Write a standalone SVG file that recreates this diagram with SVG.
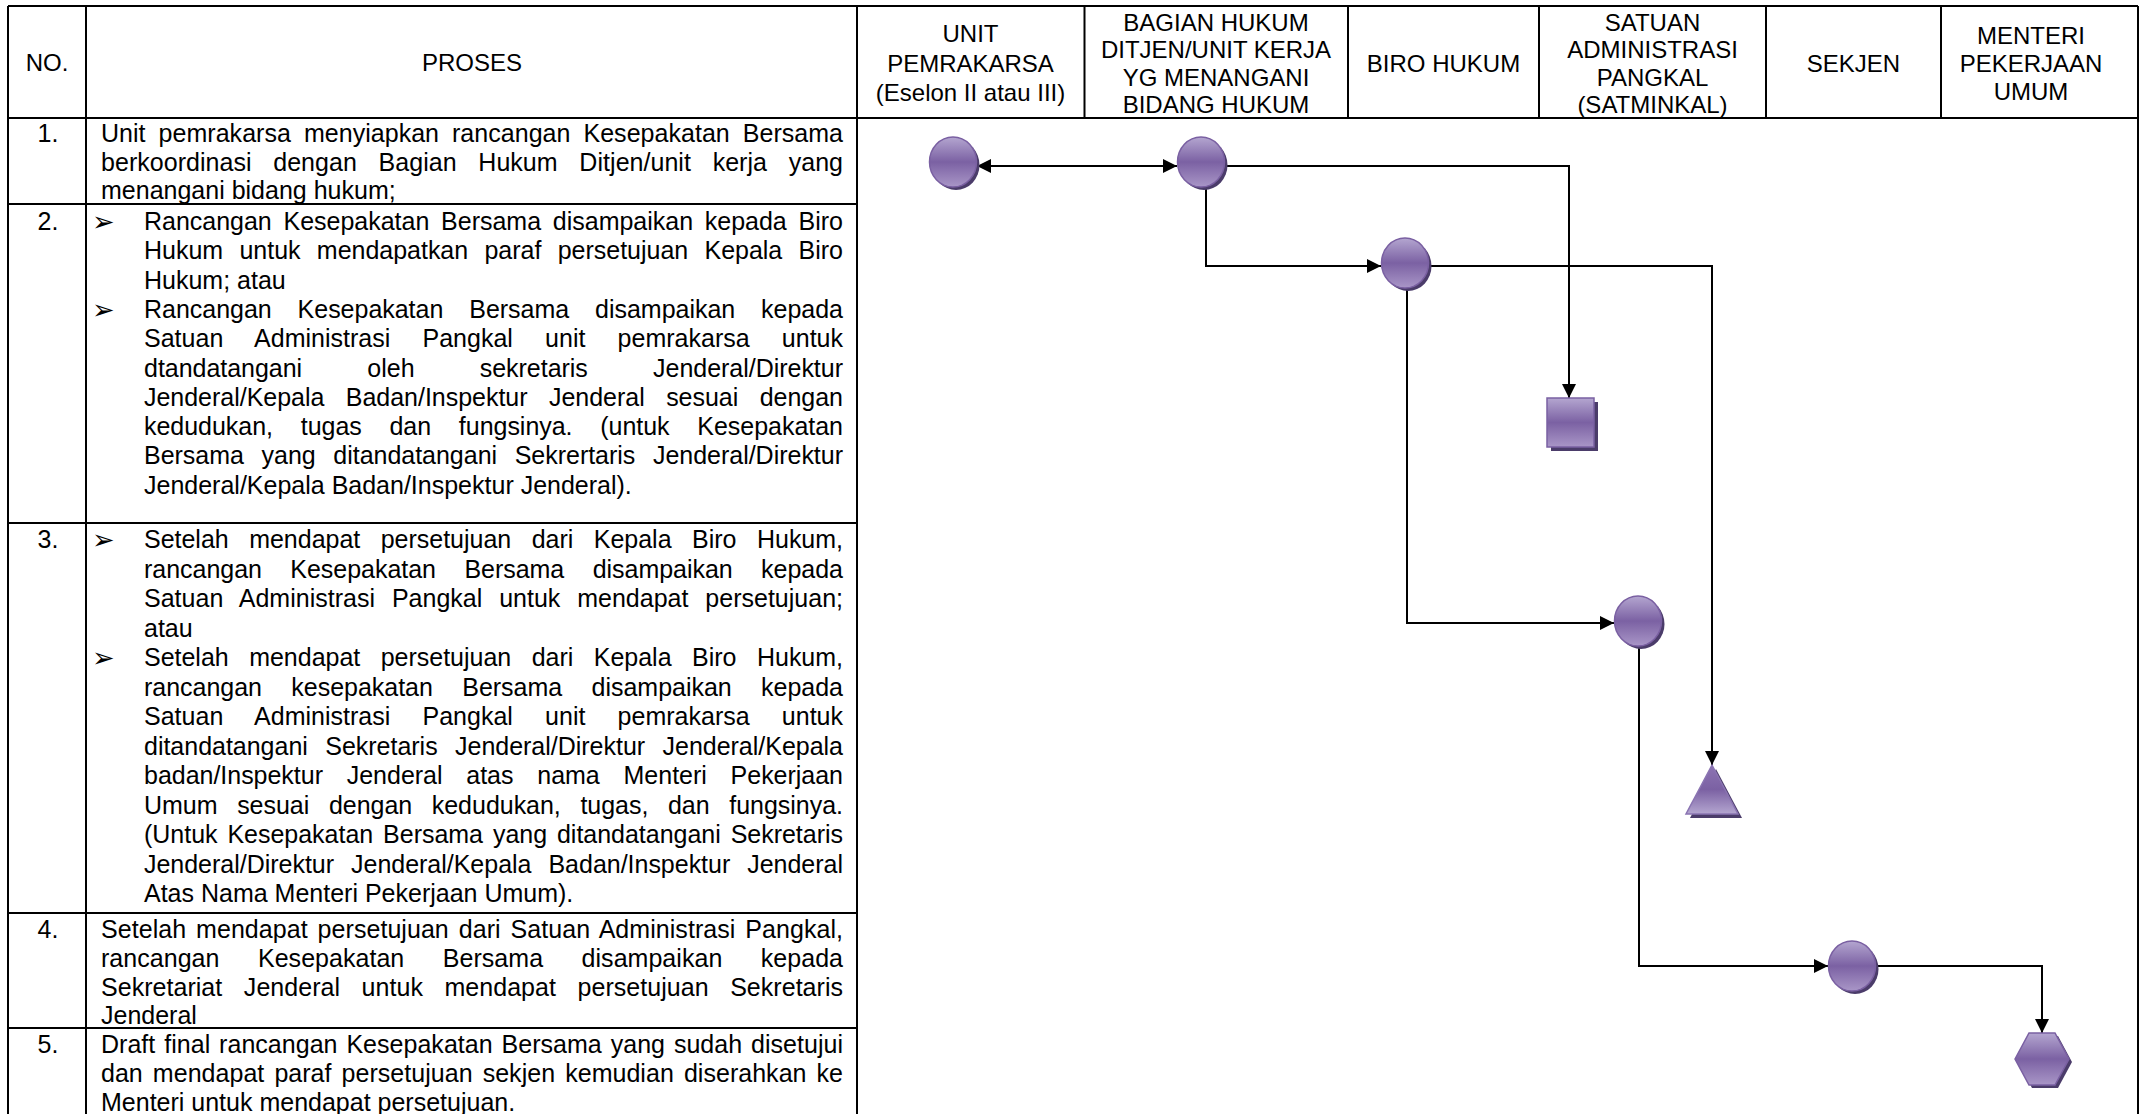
<svg xmlns="http://www.w3.org/2000/svg" width="2143" height="1114" viewBox="0 0 2143 1114">
<style>
.t{font-family:"Liberation Sans",Arial,sans-serif;font-size:25px;fill:#000}
.h{font-family:"Liberation Sans",Arial,sans-serif;font-size:24px;fill:#000;text-anchor:middle}
.n{font-family:"Liberation Sans",Arial,sans-serif;font-size:25px;fill:#000;text-anchor:middle}
.b{font-family:"DejaVu Sans",sans-serif;font-size:27px;fill:#000}
.g{stroke:#000;stroke-width:2;fill:none}
.c{fill:none;stroke:#000;stroke-width:2}
.sh{fill:#4b3c6a}
.nd{fill:url(#gv);stroke:#7a60a2;stroke-width:1.5}
.tr{fill:url(#gt);stroke:#8a74b2;stroke-width:1.5}
</style>
<defs>
<linearGradient id="gv" x1="0" y1="0" x2="0" y2="1">
<stop offset="0" stop-color="#b4a6d0"/>
<stop offset="0.5" stop-color="#7b61a3"/>
<stop offset="1" stop-color="#a996c7"/>
</linearGradient>
<linearGradient id="gt" x1="0" y1="0" x2="0" y2="1">
<stop offset="0" stop-color="#8d74b3"/>
<stop offset="0.5" stop-color="#7b61a3"/>
<stop offset="1" stop-color="#b4a6d0"/>
</linearGradient>
<marker id="arr" markerWidth="14" markerHeight="14" refX="14" refY="7" orient="auto-start-reverse" markerUnits="userSpaceOnUse">
<path d="M0,0 L14,7 L0,14 z" fill="#000"/>
</marker>
</defs>
<rect width="2143" height="1114" fill="#fff"/>

<g id="table">
<path class="g" d="M8,6 H2138 M8,118 H2138 M8,6 V1114 M2138,6 V1114 M86,6 V1114 M857,6 V1114 M1084.5,6 V118 M1348,6 V118 M1539,6 V118 M1766,6 V118 M1941,6 V118 M8,204 H857 M8,523 H857 M8,913 H857 M8,1028 H857"/>
</g>

<g id="header">
<text class="h" x="47" y="71">NO.</text>
<text class="h" x="472" y="71">PROSES</text>
<text class="h" x="970.5" y="42">UNIT</text>
<text class="h" x="970.5" y="71.5">PEMRAKARSA</text>
<text class="h" x="970.5" y="100.5">(Eselon II atau III)</text>
<text class="h" x="1216" y="30.5">BAGIAN HUKUM</text>
<text class="h" x="1216" y="58">DITJEN/UNIT KERJA</text>
<text class="h" x="1216" y="85.5">YG MENANGANI</text>
<text class="h" x="1216" y="113">BIDANG HUKUM</text>
<text class="h" x="1443.5" y="71.5">BIRO HUKUM</text>
<text class="h" x="1652.5" y="30.5">SATUAN</text>
<text class="h" x="1652.5" y="58">ADMINISTRASI</text>
<text class="h" x="1652.5" y="85.5">PANGKAL</text>
<text class="h" x="1652.5" y="113">(SATMINKAL)</text>
<text class="h" x="1853.5" y="71.5">SEKJEN</text>
<text class="h" x="2031" y="43.5">MENTERI</text>
<text class="h" x="2031" y="71.5">PEKERJAAN</text>
<text class="h" x="2031" y="99.5">UMUM</text>
</g>

<g id="row1">
<text class="n" x="48" y="142">1.</text>
<text class="t" x="101" y="142" word-spacing="6" textLength="742" lengthAdjust="spacing">Unit pemrakarsa menyiapkan rancangan Kesepakatan Bersama</text>
<text class="t" x="101" y="171" word-spacing="14.7" textLength="742" lengthAdjust="spacing">berkoordinasi dengan Bagian Hukum Ditjen/unit kerja yang</text>
<text class="t" x="101" y="199">menangani bidang hukum;</text>
</g>

<g id="row2">
<text class="n" x="48" y="230">2.</text>
<text class="b" x="92" y="231">➢</text>
<text class="t" x="144" y="230" word-spacing="4.9" textLength="699" lengthAdjust="spacing">Rancangan Kesepakatan Bersama disampaikan kepada Biro</text>
<text class="t" x="144" y="259.3" word-spacing="9.4" textLength="699" lengthAdjust="spacing">Hukum untuk mendapatkan paraf persetujuan Kepala Biro</text>
<text class="t" x="144" y="288.6">Hukum; atau</text>
<text class="b" x="92" y="318.9">➢</text>
<text class="t" x="144" y="317.9" word-spacing="19" textLength="699" lengthAdjust="spacing">Rancangan Kesepakatan Bersama disampaikan kepada</text>
<text class="t" x="144" y="347.2" word-spacing="25.2" textLength="699" lengthAdjust="spacing">Satuan Administrasi Pangkal unit pemrakarsa untuk</text>
<text class="t" x="144" y="376.5" word-spacing="58.3" textLength="699" lengthAdjust="spacing">dtandatangani oleh sekretaris Jenderal/Direktur</text>
<text class="t" x="144" y="405.8" word-spacing="14.5" textLength="699" lengthAdjust="spacing">Jenderal/Kepala Badan/Inspektur Jenderal sesuai dengan</text>
<text class="t" x="144" y="435.1" word-spacing="20.8" textLength="699" lengthAdjust="spacing">kedudukan, tugas dan fungsinya. (untuk Kesepakatan</text>
<text class="t" x="144" y="464.4" word-spacing="10.7" textLength="699" lengthAdjust="spacing">Bersama yang ditandatangani Sekrertaris Jenderal/Direktur</text>
<text class="t" x="144" y="493.7">Jenderal/Kepala Badan/Inspektur Jenderal).</text>
</g>

<g id="row3">
<text class="n" x="48" y="548">3.</text>
<text class="b" x="92" y="549">➢</text>
<text class="t" x="144" y="548" word-spacing="13.6" textLength="699" lengthAdjust="spacing">Setelah mendapat persetujuan dari Kepala Biro Hukum,</text>
<text class="t" x="144" y="577.5" word-spacing="21.5" textLength="699" lengthAdjust="spacing">rancangan Kesepakatan Bersama disampaikan kepada</text>
<text class="t" x="144" y="607" word-spacing="9.9" textLength="699" lengthAdjust="spacing">Satuan Administrasi Pangkal untuk mendapat persetujuan;</text>
<text class="t" x="144" y="636.5">atau</text>
<text class="b" x="92" y="667">➢</text>
<text class="t" x="144" y="666" word-spacing="13.6" textLength="699" lengthAdjust="spacing">Setelah mendapat persetujuan dari Kepala Biro Hukum,</text>
<text class="t" x="144" y="695.5" word-spacing="22.5" textLength="699" lengthAdjust="spacing">rancangan kesepakatan Bersama disampaikan kepada</text>
<text class="t" x="144" y="725" word-spacing="25.2" textLength="699" lengthAdjust="spacing">Satuan Administrasi Pangkal unit pemrakarsa untuk</text>
<text class="t" x="144" y="754.5" word-spacing="10.5" textLength="699" lengthAdjust="spacing">ditandatangani Sekretaris Jenderal/Direktur Jenderal/Kepala</text>
<text class="t" x="144" y="784" word-spacing="16.9" textLength="699" lengthAdjust="spacing">badan/Inspektur Jenderal atas nama Menteri Pekerjaan</text>
<text class="t" x="144" y="813.5" word-spacing="12.7" textLength="699" lengthAdjust="spacing">Umum sesuai dengan kedudukan, tugas, dan fungsinya.</text>
<text class="t" x="144" y="843" word-spacing="3" textLength="699" lengthAdjust="spacing">(Untuk Kesepakatan Bersama yang ditandatangani Sekretaris</text>
<text class="t" x="144" y="872.5" word-spacing="10.1" textLength="699" lengthAdjust="spacing">Jenderal/Direktur Jenderal/Kepala Badan/Inspektur Jenderal</text>
<text class="t" x="144" y="902">Atas Nama Menteri Pekerjaan Umum).</text>
</g>

<g id="row4">
<text class="n" x="48" y="938">4.</text>
<text class="t" x="101" y="938" word-spacing="2.9" textLength="742" lengthAdjust="spacing">Setelah mendapat persetujuan dari Satuan Administrasi Pangkal,</text>
<text class="t" x="101" y="967" word-spacing="31.5" textLength="742" lengthAdjust="spacing">rancangan Kesepakatan Bersama disampaikan kepada</text>
<text class="t" x="101" y="996" word-spacing="14.6" textLength="742" lengthAdjust="spacing">Sekretariat Jenderal untuk mendapat persetujuan Sekretaris</text>
<text class="t" x="101" y="1024">Jenderal</text>
</g>

<g id="row5">
<text class="n" x="48" y="1053">5.</text>
<text class="t" x="101" y="1053" word-spacing="1.9" textLength="742" lengthAdjust="spacing">Draft final rancangan Kesepakatan Bersama yang sudah disetujui</text>
<text class="t" x="101" y="1082" word-spacing="3.1" textLength="742" lengthAdjust="spacing">dan mendapat paraf persetujuan sekjen kemudian diserahkan ke</text>
<text class="t" x="101" y="1111">Menteri untuk mendapat persetujuan.</text>
</g>

<g id="connectors">
<path class="c" d="M977,166 H1177" marker-start="url(#arr)" marker-end="url(#arr)"/>
<path class="c" d="M1225,166 H1569 V398" marker-end="url(#arr)"/>
<path class="c" d="M1206,187 V266 H1381" marker-end="url(#arr)"/>
<path class="c" d="M1429,266 H1712 V765" marker-end="url(#arr)"/>
<path class="c" d="M1407,288 V623 H1614" marker-end="url(#arr)"/>
<path class="c" d="M1639,646 V966 H1828" marker-end="url(#arr)"/>
<path class="c" d="M1876,966 H2042 V1033" marker-end="url(#arr)"/>
</g>

<g id="node-unit-pemrakarsa">
<ellipse class="sh" cx="956" cy="165" rx="23.5" ry="25"/>
<ellipse class="nd" cx="953" cy="162" rx="23.5" ry="25"/>
</g>
<g id="node-bagian-hukum">
<ellipse class="sh" cx="1204" cy="165" rx="23.5" ry="25"/>
<ellipse class="nd" cx="1201" cy="162" rx="23.5" ry="25"/>
</g>
<g id="node-biro-hukum">
<ellipse class="sh" cx="1408" cy="266" rx="23.5" ry="25"/>
<ellipse class="nd" cx="1405" cy="263" rx="23.5" ry="25"/>
</g>
<g id="node-square">
<rect class="sh" x="1551" y="402" width="47" height="49"/>
<rect class="nd" x="1547" y="398" width="47" height="49"/>
</g>
<g id="node-satuan">
<ellipse class="sh" cx="1641" cy="624" rx="23.5" ry="25"/>
<ellipse class="nd" cx="1638" cy="621" rx="23.5" ry="25"/>
</g>
<g id="node-triangle">
<polygon class="sh" points="1716,769 1742,818 1690,818"/>
<polygon class="tr" points="1712,765 1738,814 1686,814"/>
</g>
<g id="node-sekjen">
<ellipse class="sh" cx="1855" cy="969" rx="23.5" ry="25"/>
<ellipse class="nd" cx="1852" cy="966" rx="23.5" ry="25"/>
</g>
<g id="node-hexagon">
<polygon class="sh" points="2018,1062 2032,1036 2058,1036 2072,1062 2058,1088 2032,1088"/>
<polygon class="nd" points="2015,1059 2029,1033 2055,1033 2069,1059 2055,1085 2029,1085"/>
</g>
</svg>
